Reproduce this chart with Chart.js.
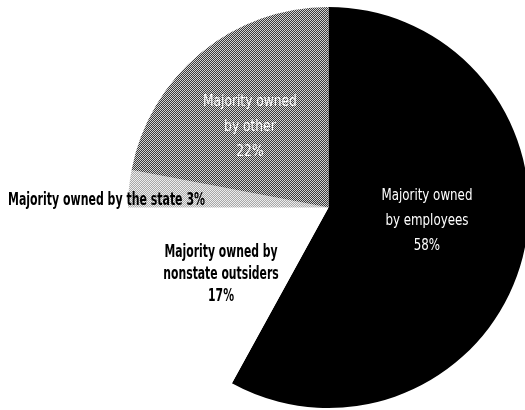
<!DOCTYPE html>
<html>
<head>
<meta charset="utf-8">
<script src="https://cdn.jsdelivr.net/npm/chart.js@4/dist/chart.umd.min.js"></script>
<style>
  html, body { margin: 0; padding: 0; background: #fff; overflow: hidden; }
  #wrap { width: 525px; height: 410px; overflow: hidden; }
  canvas { display: block; }
</style>
</head>
<body>
<div id="wrap"><canvas id="pie" width="535" height="410"></canvas></div>
<script>
// Ownership shares, in percent, clockwise from twelve o'clock
const categories = [
  'Majority owned by employees',
  'Majority owned by nonstate outsiders',
  'Majority owned by the state',
  'Majority owned by other'
];
const shares = [58, 17, 3, 22];
// How each category name is broken into lines on the chart
const labelLines = [
  ['Majority owned', 'by employees'],
  ['Majority owned by', 'nonstate outsiders'],
  ['Majority owned by the state'],
  ['Majority owned', 'by other']
];

// Halftone-like fills built from tiny checkerboard tiles
function checker(a, b) {
  const c = document.createElement('canvas');
  c.width = 2; c.height = 2;
  const g = c.getContext('2d');
  g.fillStyle = a; g.fillRect(0, 0, 2, 2);
  g.fillStyle = b; g.fillRect(0, 0, 1, 1); g.fillRect(1, 1, 1, 1);
  return g.createPattern(c, 'repeat');
}
const ctx0 = document.getElementById('pie').getContext('2d');
const fills = [
  '#000000',
  '#ffffff',
  checker('#a8a8a8', '#eeeeee'),
  checker('#3a3a3a', '#d2d2d2')
];

// Label placement relative to the pie centre, in units of the radius
const labelStyle = [
  { fx: 0.491, fy: -0.037, lh: 25, align: 'center', color: '#ffffff', font: '16px "Liberation Sans Narrow", "DejaVu Sans Condensed", sans-serif', width: 91, sameLine: false },
  { fx: -0.536, fy: 0.247, lh: 22, align: 'center', color: '#000000', font: 'bold 18px "Liberation Sans Narrow", "DejaVu Sans Condensed", sans-serif', width: 113, sameLine: false },
  { fx: -1.5985, fy: -0.0125, lh: 22, align: 'left', color: '#000000', font: 'bold 18px "Liberation Sans Narrow", "DejaVu Sans Condensed", sans-serif', width: 197, sameLine: true },
  { fx: -0.392, fy: -0.506, lh: 25, align: 'center', color: '#ffffff', font: '16px "Liberation Sans Narrow", "DejaVu Sans Condensed", sans-serif', width: 94, sameLine: false }
];

const sliceLabels = {
  id: 'sliceLabels',
  afterDatasetsDraw(chart) {
    const ctx = chart.ctx;
    const arcs = chart.getDatasetMeta(0).data;
    const values = chart.data.datasets[0].data;
    arcs.forEach((arc, i) => {
      const st = labelStyle[i];
      const lines = labelLines[i].slice();
      const pct = values[i] + '%';
      if (st.sameLine) lines[lines.length - 1] += ' ' + pct; else lines.push(pct);
      const x = arc.x + st.fx * arc.outerRadius;
      const y = arc.y + st.fy * arc.outerRadius;
      ctx.save();
      ctx.font = st.font;
      ctx.fillStyle = st.color;
      ctx.textBaseline = 'alphabetic';
      ctx.textAlign = st.align;
      const sx = st.width / ctx.measureText(lines[0]).width;
      ctx.translate(x, y);
      ctx.scale(sx, 1);
      lines.forEach((t, k) => ctx.fillText(t, 0, k * st.lh));
      ctx.restore();
    });
  }
};

new Chart(ctx0, {
  type: 'pie',
  data: {
    labels: categories,
    datasets: [{
      data: shares,
      backgroundColor: fills,
      borderWidth: 0
    }]
  },
  options: {
    responsive: false,
    animation: false,
    layout: { padding: { left: 128, top: 7, right: 6, bottom: 2 } },
    plugins: {
      legend: { display: false },
      tooltip: { enabled: false }
    }
  },
  plugins: [sliceLabels]
});
</script>
</body>
</html>
